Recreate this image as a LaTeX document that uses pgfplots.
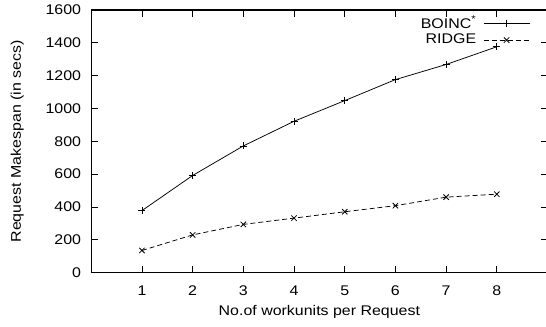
\documentclass[border=0pt]{standalone}
\usepackage{fontspec}
\setmainfont{Liberation Sans}[FakeStretch=1.14]
\usepackage{pgfplots}
\pgfplotsset{compat=1.18}
\begin{document}
\fontsize{14bp}{16.5bp}\selectfont
\begin{tikzpicture}
\begin{axis}[
  name=ax,
  scale only axis,
  width=456.3bp, height=262.7bp,
  xmin=0, xmax=9, ymin=0, ymax=1600,
  xtick={1,...,8}, ytick={0,200,...,1600},
  axis line style={line width=1.4bp},
  major tick length=7bp,
  every tick/.style={black, line width=0.9bp},
  tick align=inside,
  /pgf/number format/assume math mode=true,
  /pgf/number format/1000 sep={},
  ticklabel style={font=\fontsize{14bp}{16.5bp}\selectfont, inner sep=0pt},
  xticklabel style={anchor=north, yshift=-13bp},
  yticklabel style={anchor=east, xshift=-10bp},
  xlabel={No.of workunits per Request},
  ylabel={Request Makespan (in secs)},
  every axis x label/.style={at={([yshift=-43bp]axis description cs:0.5,0)}, anchor=base, inner sep=0pt},
  every axis y label/.style={at={([xshift=-74bp]axis description cs:0,0.5)}, rotate=90, anchor=center, inner sep=0pt},
  legend plot pos=right,
  legend cell align=right,
  legend style={draw=none, fill=none, at={(rel axis cs:0.962,0.985)}, anchor=north east, inner sep=0pt, row sep=0pt, column sep=5bp, font=\fontsize{14bp}{16.5bp}\selectfont},
  legend image code/.code={\draw[mark repeat=2,mark phase=2,#1] plot coordinates {(0bp,0bp)(23bp,0bp)(46bp,0bp)};},
]
\addplot[black, line width=0.75bp, mark=+, mark size=3.5bp, mark options={solid}]
  coordinates {(1,378)(2,592)(3,772)(4,922)(5,1048)(6,1176)(7,1268)(8,1376)};
\addlegendentry{BOINC\textsuperscript{*}}
\addplot[black, line width=0.75bp, dash pattern=on 5bp off 3bp, mark=x, mark size=3.8bp, mark options={solid}]
  coordinates {(1,135)(2,230)(3,294)(4,332)(5,371)(6,408)(7,460)(8,478)};
\addlegendentry{RIDGE}
\end{axis}
\pgfresetboundingbox
\path ([shift={(-91.3bp,-54.3bp)}]ax.south west) rectangle ([shift={(-1.5bp,10bp)}]ax.north east);
\end{tikzpicture}
\end{document}
